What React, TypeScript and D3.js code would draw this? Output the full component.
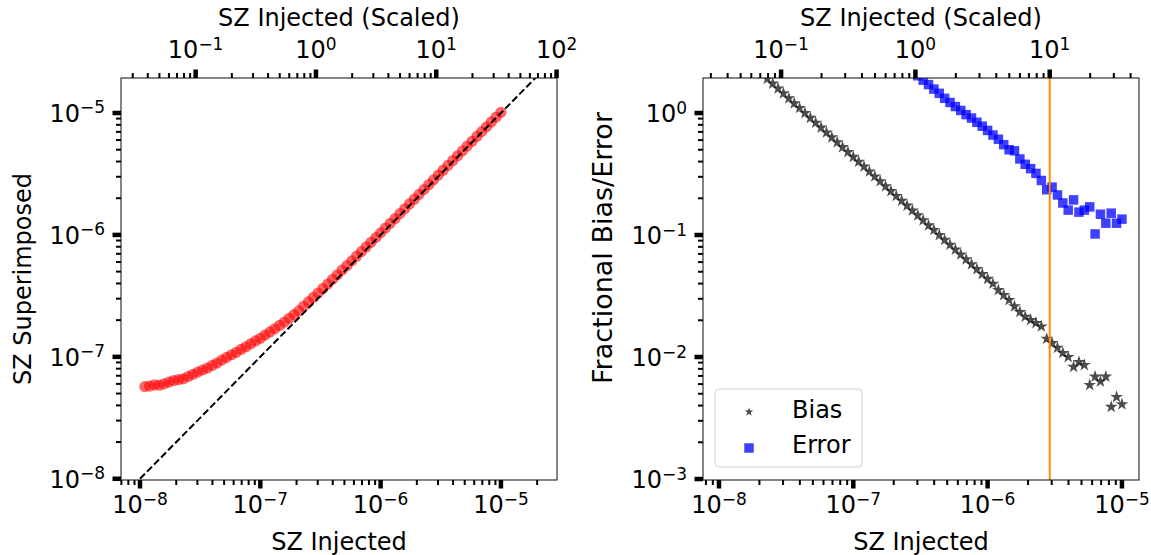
import React from "react";
import * as d3 from "d3";

// injected SZ amplitude for each realisation (shared by both panels)
const injected = [
  1.096e-8, 1.202e-8, 1.318e-8, 1.445e-8, 1.585e-8, 1.738e-8, 1.905e-8, 2.089e-8, 2.291e-8, 2.512e-8,
  2.754e-8, 3.02e-8, 3.311e-8, 3.631e-8, 3.981e-8, 4.365e-8, 4.786e-8, 5.248e-8, 5.754e-8, 6.31e-8,
  6.918e-8, 7.586e-8, 8.318e-8, 9.12e-8, 1.0e-7,
  1.096e-7, 1.202e-7, 1.318e-7, 1.445e-7, 1.585e-7, 1.738e-7, 1.905e-7, 2.089e-7, 2.291e-7, 2.512e-7,
  2.754e-7, 3.02e-7, 3.311e-7, 3.631e-7, 3.981e-7, 4.365e-7, 4.786e-7, 5.248e-7, 5.754e-7, 6.31e-7,
  6.918e-7, 7.586e-7, 8.318e-7, 9.12e-7, 1.0e-6,
  1.096e-6, 1.202e-6, 1.318e-6, 1.445e-6, 1.585e-6, 1.738e-6, 1.905e-6, 2.089e-6, 2.291e-6, 2.512e-6,
  2.754e-6, 3.02e-6, 3.311e-6, 3.631e-6, 3.981e-6, 4.365e-6, 4.786e-6, 5.248e-6, 5.754e-6, 6.31e-6,
  6.918e-6, 7.586e-6, 8.318e-6, 9.12e-6, 1.0e-5,
];

// recovered (superimposed) amplitude, left panel
const superimposed = [
  5.7e-8, 5.75e-8, 5.9e-8, 5.85e-8, 6.0e-8, 6.2e-8, 6.4e-8, 6.5e-8, 6.6e-8, 6.9e-8,
  7.2e-8, 7.5e-8, 7.8e-8, 8.1e-8, 8.5e-8, 8.9e-8, 9.4e-8, 9.9e-8, 1.04e-7, 1.09e-7,
  1.15e-7, 1.21e-7, 1.28e-7, 1.35e-7, 1.42e-7,
  1.51e-7, 1.6e-7, 1.7e-7, 1.81e-7, 1.93e-7, 2.07e-7, 2.22e-7, 2.38e-7, 2.6e-7, 2.82e-7,
  3.07e-7, 3.34e-7, 3.63e-7, 3.96e-7, 4.32e-7, 4.71e-7, 5.14e-7, 5.61e-7, 6.13e-7, 6.69e-7,
  7.3e-7, 7.97e-7, 8.7e-7, 9.5e-7, 1.04e-6,
  1.138e-6, 1.246e-6, 1.364e-6, 1.494e-6, 1.637e-6, 1.794e-6, 1.964e-6, 2.152e-6, 2.358e-6, 2.583e-6,
  2.829e-6, 3.099e-6, 3.395e-6, 3.719e-6, 4.073e-6, 4.462e-6, 4.887e-6, 5.354e-6, 5.864e-6, 6.424e-6,
  7.036e-6, 7.707e-6, 8.443e-6, 9.247e-6, 1.013e-5,
];

// fractional bias, right panel (stars)
const fracBias = [
  3.99, 3.64, 3.32, 3.02, 2.76, 2.51, 2.29, 2.09, 1.91, 1.74,
  1.59, 1.45, 1.32, 1.2, 1.1, 1.0, 0.913, 0.833, 0.759, 0.693,
  0.632, 0.576, 0.525, 0.479, 0.437,
  0.399, 0.364, 0.332, 0.302, 0.276, 0.251, 0.229, 0.209, 0.191, 0.174,
  0.159, 0.145, 0.132, 0.12, 0.11, 0.1, 0.0913, 0.0833, 0.0759, 0.0693,
  0.0632, 0.0576, 0.0525, 0.0479, 0.0437,
  0.0399, 0.0354, 0.0322, 0.0293, 0.026, 0.0234, 0.0214, 0.0201, 0.019, 0.0178,
  0.0141, 0.013, 0.0119, 0.0108, 0.01, 0.0083, 0.0091, 0.0086, 0.0059, 0.0069,
  0.0063, 0.0069, 0.0039, 0.0047, 0.0041,
];

// fractional error, right panel (squares); null = off the top of the axes
const fracError = [
  null, null, null, null, null, null, null, null, null, null,
  null, null, null, null, null, null, null, null, null, null,
  null, null, null, null, null,
  null, null, null, null, null, null, null, null, null, null,
  null, 2.02, 1.86, 1.71, 1.57, 1.45, 1.32, 1.22, 1.13, 1.05,
  0.97, 0.91, 0.84, 0.78, 0.72,
  0.66, 0.61, 0.55, 0.5, 0.49, 0.42, 0.38, 0.35, 0.32, 0.28,
  0.235, 0.247, 0.213, 0.183, 0.16, 0.194, 0.154, 0.16, 0.17, 0.102,
  0.148, 0.125, 0.151, 0.125, 0.135,
];

const scaleFactor = 2.9e-7; // injected amplitude that reads 10^0 on the top axes
const cutScaled = 10; // orange line, in scaled units

const FONT = "'DejaVu Sans', sans-serif";

type Tick = { v: number; e: number; major: boolean };

// log ticks 1..9 x 10^e inside the domain
function logTicks(lo: number, hi: number): Tick[] {
  const out: Tick[] = [];
  for (let e = Math.floor(Math.log10(lo)); e <= Math.ceil(Math.log10(hi)); e++) {
    for (let m = 1; m <= 9; m++) {
      const v = m * Math.pow(10, e);
      if (v >= lo * 0.995 && v <= hi * 1.005) out.push({ v, e, major: m === 1 });
    }
  }
  return out;
}

function Pow({ e }: { e: number }) {
  return (
    <>
      10
      <tspan dy={-8.5} fontSize={17}>
        {e < 0 ? `\u2212${-e}` : `${e}`}
      </tspan>
    </>
  );
}

function HAxis({ scale, y, side }: { scale: any; y: number; side: "top" | "bottom" }) {
  const [lo, hi] = scale.domain();
  const s = side === "bottom" ? 1 : -1;
  return (
    <g>
      {logTicks(lo, hi).map((t, i) => {
        const x = scale(t.v);
        const len = t.major ? 8.5 : 5;
        return (
          <g key={i}>
            <line x1={x} x2={x} y1={y} y2={y + s * len} stroke="#000" strokeWidth={t.major ? 4.5 : 2} />
            {t.major && (
              <text x={x} y={side === "bottom" ? y + 33 : y - 20} textAnchor="middle" fontSize={24}>
                <Pow e={t.e} />
              </text>
            )}
          </g>
        );
      })}
    </g>
  );
}

function VAxis({ scale, x }: { scale: any; x: number }) {
  const [lo, hi] = scale.domain();
  return (
    <g>
      {logTicks(lo, hi).map((t, i) => {
        const y = scale(t.v);
        const len = t.major ? 8.5 : 5;
        return (
          <g key={i}>
            <line x1={x} x2={x - len} y1={y} y2={y} stroke="#000" strokeWidth={t.major ? 4.5 : 2} />
            {t.major && (
              <text x={x - 16} y={y + 9} textAnchor="end" fontSize={24}>
                <Pow e={t.e} />
              </text>
            )}
          </g>
        );
      })}
    </g>
  );
}

export default function App() {
  const top = 78;
  const bottom = 480;

  // left panel
  const L = { x0: 121, x1: 557 };
  const xL = d3.scaleLog().domain([Math.pow(10, -8.158), Math.pow(10, -4.534)]).range([L.x0, L.x1]);
  const yL = d3.scaleLog().domain([Math.pow(10, -8.01), Math.pow(10, -4.713)]).range([bottom, top]);
  const tL = d3.scaleLog().domain(xL.domain().map((v) => v / scaleFactor)).range([L.x0, L.x1]);

  // right panel
  const R = { x0: 703, x1: 1139 };
  const xR = d3.scaleLog().domain([Math.pow(10, -8.119), Math.pow(10, -4.873)]).range([R.x0, R.x1]);
  const yR = d3.scaleLog().domain([Math.pow(10, -3.008), Math.pow(10, 0.287)]).range([bottom, top]);
  const tR = d3.scaleLog().domain(xR.domain().map((v) => v / scaleFactor)).range([R.x0, R.x1]);

  const diag = d3
    .line<number>()
    .x((d) => xL(d))
    .y((d) => yL(d))([1e-8, 1e-4]);

  const star = d3.symbol().type(d3.symbolStar);
  const square = d3.symbol().type(d3.symbolSquare);
  const cutX = xR(cutScaled * scaleFactor);

  return (
    <svg width={1151} height={555} fontFamily={FONT} style={{ display: "block" }}>
      <style>{"body{margin:0}"}</style>
      <defs>
        <clipPath id="clipL">
          <rect x={L.x0} y={top} width={L.x1 - L.x0} height={bottom - top} />
        </clipPath>
        <clipPath id="clipR">
          <rect x={R.x0} y={top} width={R.x1 - R.x0} height={bottom - top} />
        </clipPath>
      </defs>
      <rect width={1151} height={555} fill="#fff" />

      {/* ---------- left: superimposed vs injected ---------- */}
      <g clipPath="url(#clipL)">
        {injected.map((v, i) => (
          <circle key={i} cx={xL(v)} cy={yL(superimposed[i])} r={5.6} fill="red" fillOpacity={0.6} />
        ))}
        <path d={diag ?? ""} fill="none" stroke="#000" strokeWidth={2} strokeDasharray="7,3" />
      </g>
      <rect x={L.x0} y={top} width={L.x1 - L.x0} height={bottom - top} fill="none" stroke="#222" strokeWidth={1.1} />
      <HAxis scale={xL} y={bottom} side="bottom" />
      <HAxis scale={tL} y={top} side="top" />
      <VAxis scale={yL} x={L.x0} />
      <text x={(L.x0 + L.x1) / 2} y={550} textAnchor="middle" fontSize={24}>SZ Injected</text>
      <text x={(L.x0 + L.x1) / 2} y={26} textAnchor="middle" fontSize={24}>SZ Injected (Scaled)</text>
      <text transform="translate(31,279) rotate(-90)" textAnchor="middle" fontSize={24}>SZ Superimposed</text>

      {/* ---------- right: fractional bias / error ---------- */}
      <g clipPath="url(#clipR)">
        {injected.map((v, i) => (
          <path key={"b" + i} d={star.size(50)() ?? ""} transform={`translate(${xR(v)},${yR(fracBias[i])})`} fill="#000" fillOpacity={0.7} />
        ))}
        {injected.map((v, i) =>
          fracError[i] == null ? null : (
            <path key={"e" + i} d={square.size(90)() ?? ""} transform={`translate(${xR(v)},${yR(fracError[i] as number)})`} fill="blue" fillOpacity={0.75} />
          )
        )}
        <line x1={cutX} x2={cutX} y1={top} y2={bottom} stroke="#ff8c00" strokeWidth={2} />
      </g>
      <rect x={R.x0} y={top} width={R.x1 - R.x0} height={bottom - top} fill="none" stroke="#222" strokeWidth={1.1} />
      <HAxis scale={xR} y={bottom} side="bottom" />
      <HAxis scale={tR} y={top} side="top" />
      <VAxis scale={yR} x={R.x0} />
      <text x={(R.x0 + R.x1) / 2} y={550} textAnchor="middle" fontSize={24}>SZ Injected</text>
      <text x={(R.x0 + R.x1) / 2} y={26} textAnchor="middle" fontSize={24}>SZ Injected (Scaled)</text>
      <text transform="translate(612,248) rotate(-90)" textAnchor="middle" fontSize={27}>Fractional Bias/Error</text>

      {/* legend */}
      <g>
        <rect x={715} y={389} width={147} height={78} rx={4} fill="#fff" fillOpacity={0.8} stroke="#d0d0d0" strokeWidth={1} />
        <path d={star.size(24)() ?? ""} transform="translate(749,412)" fill="#000" fillOpacity={0.7} />
        <text x={792} y={418} fontSize={24}>Bias</text>
        <path d={square.size(90)() ?? ""} transform="translate(749,448)" fill="blue" fillOpacity={0.75} />
        <text x={792} y={453} fontSize={24}>Error</text>
      </g>
    </svg>
  );
}
